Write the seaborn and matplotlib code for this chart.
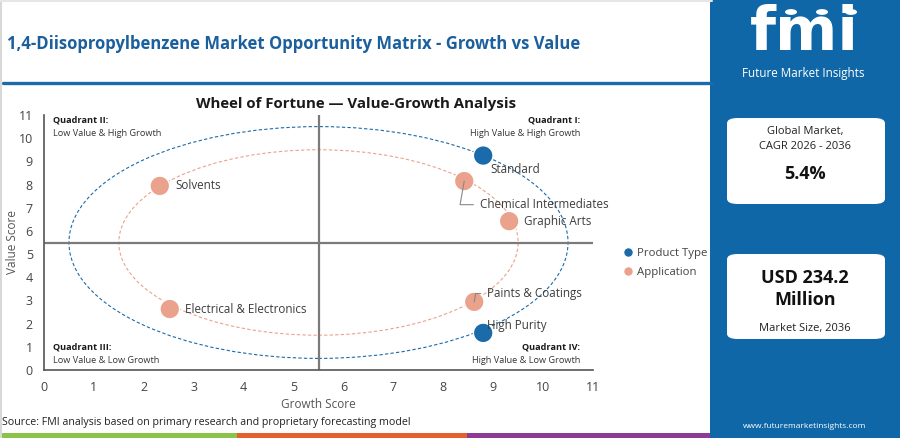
import numpy as np
import pandas as pd
import matplotlib.pyplot as plt
from matplotlib.patches import Ellipse, FancyBboxPatch, Rectangle, Circle
from matplotlib.lines import Line2D
import seaborn as sns

sns.set_theme(style="white")
plt.rcParams['font.family'] = ['Open Sans', 'DejaVu Sans']

# data
segments = ["Standard", "High Purity", "Chemical Intermediates", "Graphic Arts",
            "Paints & Coatings", "Solvents", "Electrical & Electronics"]
groups = ["Product Type", "Product Type", "Application", "Application",
          "Application", "Application", "Application"]
growth = [8.8, 8.8, 8.42, 9.32, 8.62, 2.32, 2.52]
value = [9.25, 1.6, 8.15, 6.42, 2.94, 7.94, 2.63]

ring_radius = {"Product Type": 5.0, "Application": 4.0}
center = 5.5

cagr = "5.4%"
market_size = "USD 234.2\nMillion"

df = pd.DataFrame({"segment": segments, "group": groups,
                   "growth": growth, "value": value})

BLUE = "#1b6aa9"
ORANGE = "#eba28c"
PANEL = "#0f67a8"
palette = {"Product Type": BLUE, "Application": ORANGE}

W, H = 900, 438
fig = plt.figure(figsize=(W / 100, H / 100), dpi=100)


def fx(x):
    return x / W


def fy(y):
    return 1 - y / H


ax = fig.add_axes([fx(44), fy(370), 549 / W, 255 / H])
ax.set_zorder(3)

# quadrant rings
for g, r in ring_radius.items():
    ax.add_patch(Ellipse((center, center), 2 * r, 2 * r, fill=False,
                         edgecolor=palette[g], lw=0.8, ls=(0, (3, 2)), zorder=1))

ax.axhline(center, color="#7a7a7a", lw=1.6, zorder=1)
ax.axvline(center, color="#7a7a7a", lw=1.6, zorder=1)

sns.scatterplot(data=df, x="growth", y="value", hue="group", palette=palette,
                hue_order=["Product Type", "Application"], s=200,
                edgecolor="white", linewidth=1, ax=ax, zorder=3)

# point labels (offset in points)
offsets = {
    "Standard": (5, -10, False),
    "High Purity": (3, 5, False),
    "Chemical Intermediates": (11, -17, True),
    "Graphic Arts": (11, 0, False),
    "Paints & Coatings": (9, 6, True),
    "Solvents": (11, 0, False),
    "Electrical & Electronics": (11, 0, False),
}
for s, x, y in zip(segments, growth, value):
    dx, dy, arrow = offsets[s]
    ax.annotate(s, (x, y), xytext=(dx, dy), textcoords="offset points",
                ha="left", va="center", fontsize=8.4, color="#3d3d3d", zorder=4,
                arrowprops=dict(arrowstyle="-", color="#888888", lw=0.8,
                                shrinkA=2, shrinkB=0,
                                connectionstyle="angle,angleA=0,angleB=80,rad=0")
                if arrow else None)

# quadrant captions
quads = [(0.18, 10.78, 10.2, "left", "Quadrant II:", "Low Value & High Growth"),
         (10.74, 10.78, 10.2, "right", "Quadrant I:", "High Value & High Growth"),
         (0.18, 0.99, 0.42, "left", "Quadrant III:", "Low Value & Low Growth"),
         (10.74, 0.99, 0.42, "right", "Quadrant IV:", "High Value & Low Growth")]
for x, y1, y2, ha, head, sub in quads:
    ax.text(x, y1, head, ha=ha, va="center", fontsize=6.6, fontweight="bold", color="#1a1a1a")
    ax.text(x, y2, sub, ha=ha, va="center", fontsize=6.6, color="#333333")

ax.set_xlim(0, 11)
ax.set_ylim(0, 11)
ax.set_xticks(range(12))
ax.set_yticks(range(12))
ax.tick_params(length=0, pad=8, labelsize=9, colors="#444444")
ax.set_xlabel("Growth Score", fontsize=8.5, color="#555555", labelpad=3)
ax.set_ylabel("Value Score", fontsize=8.5, color="#555555", va="center")
ax.yaxis.set_label_coords(-0.058, 0.5)
sns.despine(ax=ax)
for sp in ["left", "bottom"]:
    ax.spines[sp].set_color("#555555")
    ax.spines[sp].set_linewidth(1.2)

sns.move_legend(ax, "center left", bbox_to_anchor=(1.055, 0.42), frameon=False,
                title=None, fontsize=8.2, markerscale=0.5, handletextpad=0.4,
                handlelength=0.8, labelspacing=0.75, borderpad=0, borderaxespad=0)
for t in ax.get_legend().get_texts():
    t.set_color("#444444")

# headings
fig.text(fx(7), fy(44), "1,4-Diisopropylbenzene Market Opportunity Matrix - Growth vs Value",
         fontsize=12, fontweight="bold", color="#1b5f9c", va="center", ha="left")
fig.add_artist(Line2D([fx(3), fx(712)], [fy(83), fy(83)], color=BLUE, lw=2.4))
fig.text(fx(356), fy(104), "Wheel of Fortune \u2014 Value-Growth Analysis",
         fontsize=10.8, fontweight="bold", color="#1a1a1a", ha="center", va="center")
fig.text(fx(2), fy(423), "Source: FMI analysis based on primary research and proprietary forecasting model",
         fontsize=7.7, color="#222222", ha="left", va="center")

# bottom colour strip
for x0, x1, c in [(0, 237, "#8bc34a"), (237, 467, "#e5602c"), (467, 712, "#8e3b97")]:
    fig.add_artist(Rectangle((fx(x0), 0), fx(x1 - x0), 5 / H, color=c, lw=0))

# light frame
fig.add_artist(Line2D([fx(0.5), fx(0.5)], [0, 1], color="#d8d8d8", lw=1.5))
fig.add_artist(Line2D([0, fx(712)], [fy(0.5), fy(0.5)], color="#e6e6e6", lw=1.5))

# right panel
fig.add_artist(Rectangle((fx(710), 0), fx(190), 1, color=PANEL, lw=0))
fig.text(fx(804), fy(33), "fmi", fontsize=43, fontweight="bold", color="white",
         ha="center", va="center", family="DejaVu Sans")
for yy in np.arange(21, 58, 3.6):
    fig.add_artist(Line2D([fx(735), fx(872)], [fy(yy), fy(yy)], color=PANEL, lw=0.7))
for cx in [791, 822, 851]:
    fig.add_artist(Circle((fx(cx), fy(12)), 6 / W, color="white", lw=0,
                          transform=fig.transFigure))
fig.text(fx(803), fy(73), "Future Market Insights", fontsize=8.4, color="white",
         ha="center", va="center")

for y0, y1 in [(118, 204), (254, 339)]:
    fig.add_artist(FancyBboxPatch((fx(727), fy(y1)), fx(158), (y1 - y0) / H,
                                  boxstyle="round,pad=0,rounding_size=0.012",
                                  facecolor="white", edgecolor="none"))

fig.text(fx(805), fy(139), "Global Market,\nCAGR 2026 - 2036", fontsize=8, color="#222222",
         ha="center", va="center", linespacing=1.45)
fig.text(fx(805), fy(174), cagr, fontsize=13, fontweight="bold", color="#111111",
         ha="center", va="center")
fig.text(fx(805), fy(289), market_size, fontsize=13, fontweight="bold", color="#111111",
         ha="center", va="center", linespacing=1.35)
fig.text(fx(805), fy(328), "Market Size, 2036", fontsize=8, color="#222222",
         ha="center", va="center")
fig.text(fx(805), fy(426), "www.futuremarketinsights.com", fontsize=6, color="white",
         ha="center", va="center")

fig.savefig("out.png", dpi=100)
